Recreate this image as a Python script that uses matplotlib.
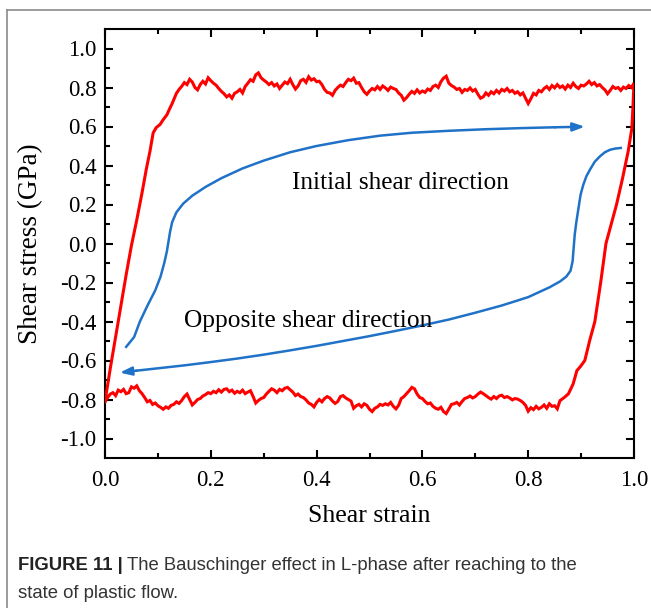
import matplotlib
matplotlib.use("Agg")
import matplotlib.pyplot as plt
import numpy as np

# ---------------- data ----------------
# left loading branch (strain, stress)
rise_strain = [0.000, 0.010, 0.020, 0.030, 0.040, 0.050, 0.060, 0.070, 0.078, 0.085,
               0.091, 0.097, 0.104, 0.110, 0.117, 0.122, 0.126, 0.131, 0.135, 0.140, 0.145]
rise_stress = [-0.810, -0.640, -0.480, -0.320, -0.160, -0.010, 0.120, 0.260, 0.380, 0.473,
               0.567, 0.595, 0.610, 0.635, 0.660, 0.690, 0.712, 0.745, 0.770, 0.790, 0.806]

top_strain = [0.145, 0.150, 0.155, 0.160, 0.165, 0.170, 0.175, 0.180, 0.185, 0.190, 0.195, 0.200,
              0.205, 0.210, 0.215, 0.220, 0.225, 0.230, 0.235, 0.240, 0.245, 0.250,
              0.255, 0.260, 0.265, 0.270, 0.275, 0.280, 0.285, 0.290, 0.295, 0.300,
              0.305, 0.310, 0.315, 0.320, 0.325, 0.330, 0.335, 0.340, 0.345, 0.350,
              0.355, 0.360, 0.365, 0.370, 0.375, 0.380, 0.385, 0.390, 0.395, 0.400,
              0.405, 0.410, 0.415, 0.420, 0.425, 0.430, 0.435, 0.440, 0.445, 0.450,
              0.455, 0.460, 0.465, 0.470, 0.475, 0.480, 0.485, 0.490, 0.495, 0.500,
              0.505, 0.510, 0.515, 0.520, 0.525, 0.530, 0.535, 0.540, 0.545, 0.550,
              0.555, 0.560, 0.565, 0.570, 0.575, 0.580, 0.585, 0.590, 0.595, 0.600,
              0.605, 0.610, 0.615, 0.620, 0.625, 0.630, 0.635, 0.640, 0.645, 0.650,
              0.655, 0.660, 0.665, 0.670, 0.675, 0.680, 0.685, 0.690, 0.695, 0.700,
              0.705, 0.710, 0.715, 0.720, 0.725, 0.730, 0.735, 0.740, 0.745, 0.750,
              0.755, 0.760, 0.765, 0.770, 0.775, 0.780, 0.785, 0.790, 0.795, 0.800,
              0.805, 0.810, 0.815, 0.820, 0.825, 0.830, 0.835, 0.840, 0.845, 0.850,
              0.855, 0.860, 0.865, 0.870, 0.875, 0.880, 0.885, 0.890, 0.895, 0.900,
              0.905, 0.910, 0.915, 0.920, 0.925, 0.930, 0.935, 0.940, 0.945, 0.950,
              0.955, 0.960, 0.965, 0.970, 0.975, 0.980, 0.985, 0.990, 0.995, 1.000]
top_stress = [0.806, 0.825, 0.815, 0.842, 0.828, 0.800, 0.788, 0.815, 0.832, 0.818, 0.850, 0.835,
              0.822, 0.812, 0.795, 0.780, 0.768, 0.752, 0.762, 0.745, 0.770, 0.778,
              0.790, 0.772, 0.805, 0.822, 0.840, 0.832, 0.865, 0.875, 0.850, 0.838,
              0.828, 0.815, 0.825, 0.808, 0.818, 0.795, 0.812, 0.828, 0.820, 0.842,
              0.815, 0.792, 0.808, 0.835, 0.842, 0.826, 0.855, 0.838, 0.845, 0.830,
              0.832, 0.815, 0.790, 0.775, 0.772, 0.760, 0.785, 0.800, 0.812, 0.805,
              0.825, 0.842, 0.835, 0.848, 0.822, 0.825, 0.800, 0.778, 0.765, 0.782,
              0.795, 0.788, 0.805, 0.790, 0.808, 0.798, 0.785, 0.802, 0.795, 0.790,
              0.772, 0.760, 0.735, 0.748, 0.765, 0.780, 0.770, 0.788, 0.772, 0.782,
              0.775, 0.792, 0.785, 0.805, 0.812, 0.800, 0.830, 0.848, 0.858, 0.822,
              0.810, 0.802, 0.790, 0.795, 0.775, 0.790, 0.785, 0.798, 0.782, 0.790,
              0.765, 0.745, 0.752, 0.772, 0.760, 0.778, 0.768, 0.785, 0.772, 0.790,
              0.782, 0.795, 0.778, 0.785, 0.770, 0.778, 0.762, 0.772, 0.745, 0.718,
              0.742, 0.770, 0.762, 0.785, 0.778, 0.795, 0.805, 0.790, 0.810, 0.798,
              0.815, 0.800, 0.808, 0.792, 0.812, 0.800, 0.822, 0.805, 0.795, 0.812,
              0.808, 0.818, 0.832, 0.815, 0.825, 0.808, 0.815, 0.800, 0.788, 0.768,
              0.785, 0.805, 0.795, 0.800, 0.785, 0.802, 0.795, 0.810, 0.800, 0.822]

# right unloading branch (from top going down)
drop_strain = [1.000, 0.998, 0.996, 0.989, 0.978, 0.967, 0.957, 0.947, 0.937, 0.926,
               0.916, 0.907, 0.899, 0.892, 0.885, 0.876, 0.868, 0.860]
drop_stress = [0.822, 0.700, 0.592, 0.473, 0.330, 0.200, 0.100, 0.000, -0.200, -0.400,
               -0.500, -0.600, -0.630, -0.652, -0.720, -0.771, -0.790, -0.806]

# bottom plateau (listed left to right, traversed right to left)
bot_strain = [0.000, 0.005, 0.010, 0.015, 0.020, 0.025, 0.030, 0.035, 0.040, 0.045,
              0.050, 0.055, 0.060, 0.065, 0.070, 0.075, 0.080, 0.085, 0.090, 0.095,
              0.100, 0.105, 0.110, 0.115, 0.120, 0.125, 0.130, 0.135, 0.140, 0.145,
              0.150, 0.155, 0.160, 0.165, 0.170, 0.175, 0.180, 0.185, 0.190, 0.195,
              0.200, 0.205, 0.210, 0.215, 0.220, 0.225, 0.230, 0.235, 0.240, 0.245,
              0.250, 0.255, 0.260, 0.265, 0.270, 0.275, 0.280, 0.285, 0.290, 0.295,
              0.300, 0.305, 0.310, 0.315, 0.320, 0.325, 0.330, 0.335, 0.340, 0.345,
              0.350, 0.355, 0.360, 0.365, 0.370, 0.375, 0.380, 0.385, 0.390, 0.395,
              0.400, 0.405, 0.410, 0.415, 0.420, 0.425, 0.430, 0.435, 0.440, 0.445,
              0.450, 0.455, 0.460, 0.465, 0.470, 0.475, 0.480, 0.485, 0.490, 0.495,
              0.500, 0.505, 0.510, 0.515, 0.520, 0.525, 0.530, 0.535, 0.540, 0.545,
              0.550, 0.555, 0.560, 0.565, 0.570, 0.575, 0.580, 0.585, 0.590, 0.595,
              0.600, 0.605, 0.610, 0.615, 0.620, 0.625, 0.630, 0.635, 0.640, 0.645,
              0.650, 0.655, 0.660, 0.665, 0.670, 0.675, 0.680, 0.685, 0.690, 0.695,
              0.700, 0.705, 0.710, 0.715, 0.720, 0.725, 0.730, 0.735, 0.740, 0.745,
              0.750, 0.755, 0.760, 0.765, 0.770, 0.775, 0.780, 0.785, 0.790, 0.795,
              0.800, 0.805, 0.810, 0.815, 0.820, 0.825, 0.830, 0.835, 0.840, 0.845,
              0.850, 0.855, 0.860]
bot_stress = [-0.810, -0.790, -0.772, -0.765, -0.780, -0.752, -0.760, -0.748, -0.770, -0.765,
              -0.735, -0.742, -0.730, -0.755, -0.770, -0.790, -0.812, -0.805, -0.825, -0.818,
              -0.832, -0.840, -0.850, -0.838, -0.845, -0.830, -0.825, -0.812, -0.820, -0.805,
              -0.785, -0.772, -0.800, -0.828, -0.815, -0.800, -0.795, -0.782, -0.775, -0.765,
              -0.770, -0.758, -0.765, -0.750, -0.762, -0.748, -0.745, -0.760, -0.752, -0.768,
              -0.758, -0.765, -0.752, -0.770, -0.762, -0.755, -0.785, -0.818, -0.805, -0.795,
              -0.790, -0.772, -0.758, -0.745, -0.752, -0.765, -0.748, -0.755, -0.742, -0.738,
              -0.750, -0.762, -0.780, -0.772, -0.785, -0.790, -0.802, -0.818, -0.825, -0.838,
              -0.815, -0.800, -0.812, -0.795, -0.785, -0.792, -0.808, -0.820, -0.810, -0.785,
              -0.780, -0.792, -0.800, -0.808, -0.845, -0.832, -0.825, -0.838, -0.822, -0.830,
              -0.850, -0.862, -0.845, -0.838, -0.825, -0.830, -0.822, -0.828, -0.815, -0.835,
              -0.848, -0.830, -0.795, -0.785, -0.770, -0.755, -0.738, -0.745, -0.772, -0.790,
              -0.795, -0.810, -0.822, -0.818, -0.835, -0.845, -0.850, -0.840, -0.862, -0.872,
              -0.848, -0.825, -0.822, -0.815, -0.828, -0.810, -0.795, -0.790, -0.782, -0.792,
              -0.785, -0.772, -0.762, -0.770, -0.780, -0.790, -0.798, -0.785, -0.795, -0.782,
              -0.778, -0.790, -0.785, -0.792, -0.802, -0.795, -0.798, -0.805, -0.815, -0.830,
              -0.860, -0.842, -0.852, -0.835, -0.848, -0.840, -0.828, -0.845, -0.822, -0.835,
              -0.832, -0.848, -0.812]

# blue guide arrows
initial_strain = [0.040, 0.055, 0.066, 0.080, 0.095, 0.105, 0.112, 0.117, 0.120, 0.123,
                  0.127, 0.135, 0.148, 0.165, 0.190, 0.220, 0.260, 0.300, 0.350, 0.400,
                  0.460, 0.520, 0.580, 0.650, 0.720, 0.790, 0.850, 0.907]
initial_stress = [-0.530, -0.480, -0.400, -0.320, -0.240, -0.170, -0.100, -0.040, 0.010, 0.060,
                  0.110, 0.160, 0.205, 0.245, 0.290, 0.335, 0.385, 0.425, 0.468, 0.500,
                  0.530, 0.553, 0.568, 0.578, 0.586, 0.592, 0.596, 0.599]
opposite_strain = [0.975, 0.965, 0.955, 0.945, 0.936, 0.926, 0.917, 0.910, 0.904, 0.899,
                   0.895, 0.891, 0.888, 0.886, 0.884, 0.880, 0.872, 0.860, 0.840, 0.800,
                   0.750, 0.700, 0.650, 0.600, 0.550, 0.500, 0.450, 0.400, 0.350, 0.300,
                   0.250, 0.200, 0.150, 0.100, 0.060, 0.028]
opposite_stress = [0.490, 0.487, 0.481, 0.468, 0.448, 0.420, 0.380, 0.345, 0.300, 0.250,
                   0.180, 0.110, 0.047, -0.020, -0.090, -0.140, -0.170, -0.195, -0.225, -0.275,
                   -0.318, -0.355, -0.390, -0.420, -0.448, -0.475, -0.500, -0.525, -0.548, -0.570,
                   -0.590, -0.608, -0.625, -0.640, -0.652, -0.662]

x_ticks = [0.0, 0.2, 0.4, 0.6, 0.8, 1.0]
x_tick_labels = ["0.0", "0.2", "0.4", "0.6", "0.8", "1.0"]
y_ticks = [-1.0, -0.8, -0.6, -0.4, -0.2, 0.0, 0.2, 0.4, 0.6, 0.8, 1.0]
y_tick_labels = ["-1.0", "-0.8", "-0.6", "-0.4", "-0.2", "0.0", "0.2", "0.4", "0.6", "0.8", "1.0"]

# ---------------- figure ----------------
W, H = 651, 608
fig = plt.figure(figsize=(W / 100, H / 100), dpi=100)
serif = ["Liberation Serif", "DejaVu Serif"]

ax = fig.add_axes([105 / W, 1 - 458 / H, (634 - 105) / W, (458 - 29) / H])

loop_x = rise_strain + top_strain[1:] + drop_strain[1:] + bot_strain[::-1][1:]
loop_y = rise_stress + top_stress[1:] + drop_stress[1:] + bot_stress[::-1][1:]
ax.plot(loop_x, loop_y, color="#ff0000", lw=2.2, solid_joinstyle="miter", zorder=3)

blue = "#1f72c8"
ax.plot(initial_strain[:-1], initial_stress[:-1], color=blue, lw=1.8, zorder=2)
ax.annotate("", xy=(initial_strain[-1], initial_stress[-1]),
            xytext=(initial_strain[-2], initial_stress[-2]),
            arrowprops=dict(arrowstyle="-|>,head_length=0.7,head_width=0.25",
                            color=blue, lw=1.8, shrinkA=0, shrinkB=0))
ax.plot(opposite_strain[:-1], opposite_stress[:-1], color=blue, lw=1.8, zorder=2)
ax.annotate("", xy=(opposite_strain[-1], opposite_stress[-1]),
            xytext=(opposite_strain[-2], opposite_stress[-2]),
            arrowprops=dict(arrowstyle="-|>,head_length=0.7,head_width=0.25",
                            color=blue, lw=1.8, shrinkA=0, shrinkB=0))

ax.text(0.558, 0.31, "Initial shear direction", family=serif, fontsize=18.3,
        ha="center", va="center")
ax.text(0.384, -0.40, "Opposite shear direction", family=serif, fontsize=18.3,
        ha="center", va="center")

ax.set_xlim(0.0, 1.0)
ax.set_ylim(-1.1, 1.1)
ax.set_xticks(x_ticks)
ax.set_xticklabels(x_tick_labels)
ax.set_yticks(y_ticks)
ax.set_yticklabels(y_tick_labels)
ax.set_xticks([0.1, 0.3, 0.5, 0.7, 0.9], minor=True)
ax.set_yticks([-0.9, -0.7, -0.5, -0.3, -0.1, 0.1, 0.3, 0.5, 0.7, 0.9], minor=True)
ax.tick_params(which="both", direction="in", top=True, right=True, width=1.5)
ax.tick_params(which="major", length=6, labelsize=16.5)
ax.tick_params(axis="x", which="major", pad=9)
ax.tick_params(axis="y", which="major", pad=6)
ax.tick_params(which="minor", length=3.5)
for lab in ax.get_xticklabels() + ax.get_yticklabels():
    lab.set_family(serif)
for s in ax.spines.values():
    s.set_linewidth(1.5)

ax.set_xlabel("Shear strain", family=serif, fontsize=18.5, labelpad=10)
ax.set_ylabel("Shear stress (GPa)", family=serif, fontsize=19.5, va="center")
ax.yaxis.set_label_coords((31 - 105) / 529, 0.5)

# outer frame and caption
fig.add_artist(plt.Line2D([7 / W, 7 / W], [0, 1 - 10 / H], transform=fig.transFigure,
                          color="#8a8a8a", lw=1.2))
fig.add_artist(plt.Line2D([7 / W, 1], [1 - 10 / H, 1 - 10 / H], transform=fig.transFigure,
                          color="#8a8a8a", lw=1.2))
cap_font = ["Liberation Sans", "DejaVu Sans"]
t1 = fig.text(18 / W, 1 - 566 / H, "FIGURE 11 |", family=cap_font, fontsize=13.3,
              fontweight="bold", va="center", ha="left", color="#222222")
fig.canvas.draw()
bb = t1.get_window_extent()
fig.text((bb.x1 + 4) / W, 1 - 566 / H, "The Bauschinger effect in L-phase after reaching to the",
         family=cap_font, fontsize=13.3, va="center", ha="left", color="#333333")
fig.text(18 / W, 1 - 593 / H, "state of plastic flow.", family=cap_font, fontsize=13.3,
         va="center", ha="left", color="#333333")

fig.savefig("out.png", dpi=100)
